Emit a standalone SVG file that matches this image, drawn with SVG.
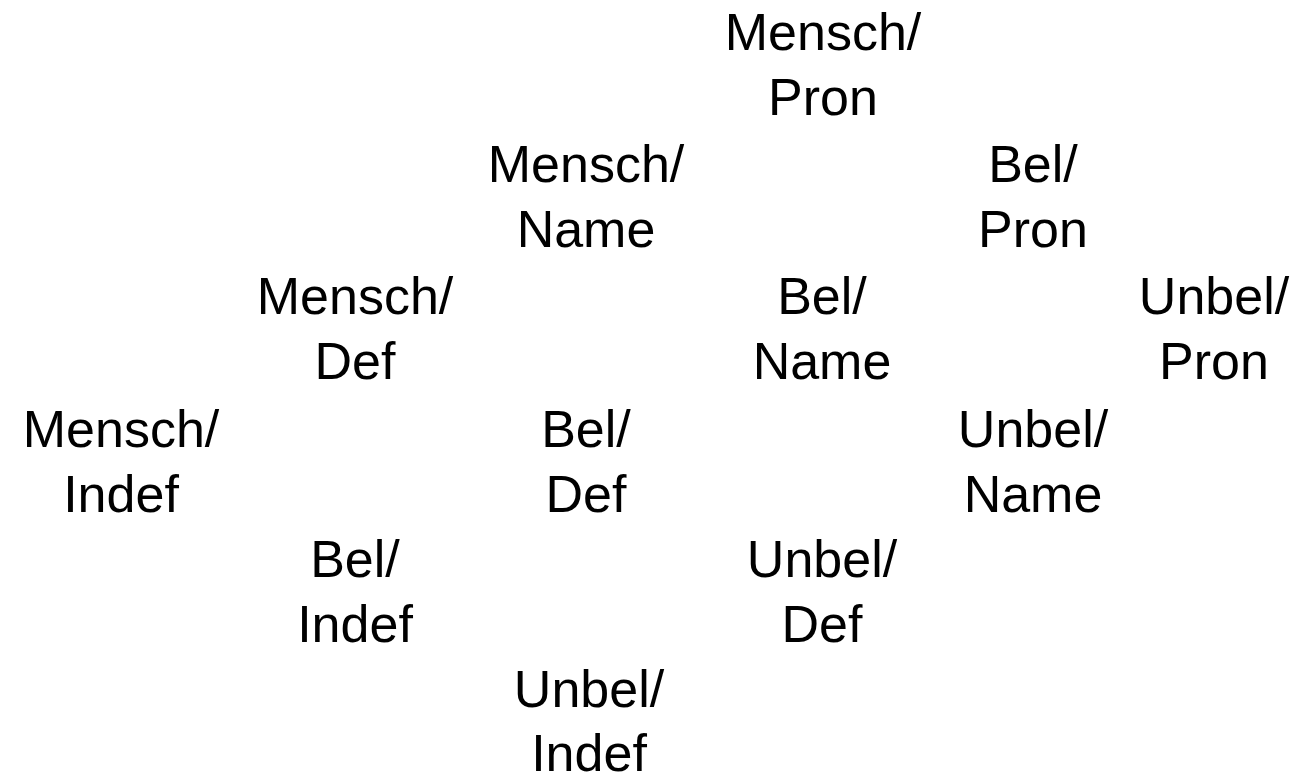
<svg xmlns="http://www.w3.org/2000/svg" width="1302" height="781" viewBox="0 0 1302 781">
  <style>
    .lbl { font-family: "Liberation Sans", Arial, Helvetica, sans-serif; font-size: 52px; fill: #000; text-anchor: middle; }
  </style>
  <rect width="1302" height="781" fill="#fff"/>
  <g id="connectors"/>
  <!-- row 1 -->
  <g id="mensch-pron"><text class="lbl" x="823" y="50">Mensch/</text><text class="lbl" x="823" y="115">Pron</text></g>
  <!-- row 2 -->
  <g id="mensch-name"><text class="lbl" x="586" y="182">Mensch/</text><text class="lbl" x="586" y="247">Name</text></g>
  <g id="bel-pron"><text class="lbl" x="1033" y="182">Bel/</text><text class="lbl" x="1033" y="247">Pron</text></g>
  <!-- row 3 -->
  <g id="mensch-def"><text class="lbl" x="355" y="314">Mensch/</text><text class="lbl" x="355" y="379">Def</text></g>
  <g id="bel-name"><text class="lbl" x="822" y="314">Bel/</text><text class="lbl" x="822" y="379">Name</text></g>
  <g id="unbel-pron"><text class="lbl" x="1214" y="314">Unbel/</text><text class="lbl" x="1214" y="379">Pron</text></g>
  <!-- row 4 -->
  <g id="mensch-indef"><text class="lbl" x="121" y="447">Mensch/</text><text class="lbl" x="121" y="512">Indef</text></g>
  <g id="bel-def"><text class="lbl" x="586" y="447">Bel/</text><text class="lbl" x="586" y="512">Def</text></g>
  <g id="unbel-name"><text class="lbl" x="1033" y="447">Unbel/</text><text class="lbl" x="1033" y="512">Name</text></g>
  <!-- row 5 -->
  <g id="bel-indef"><text class="lbl" x="355" y="577">Bel/</text><text class="lbl" x="355" y="642">Indef</text></g>
  <g id="unbel-def"><text class="lbl" x="822" y="577">Unbel/</text><text class="lbl" x="822" y="642">Def</text></g>
  <!-- row 6 -->
  <g id="unbel-indef"><text class="lbl" x="589" y="707">Unbel/</text><text class="lbl" x="589" y="771">Indef</text></g>
</svg>
